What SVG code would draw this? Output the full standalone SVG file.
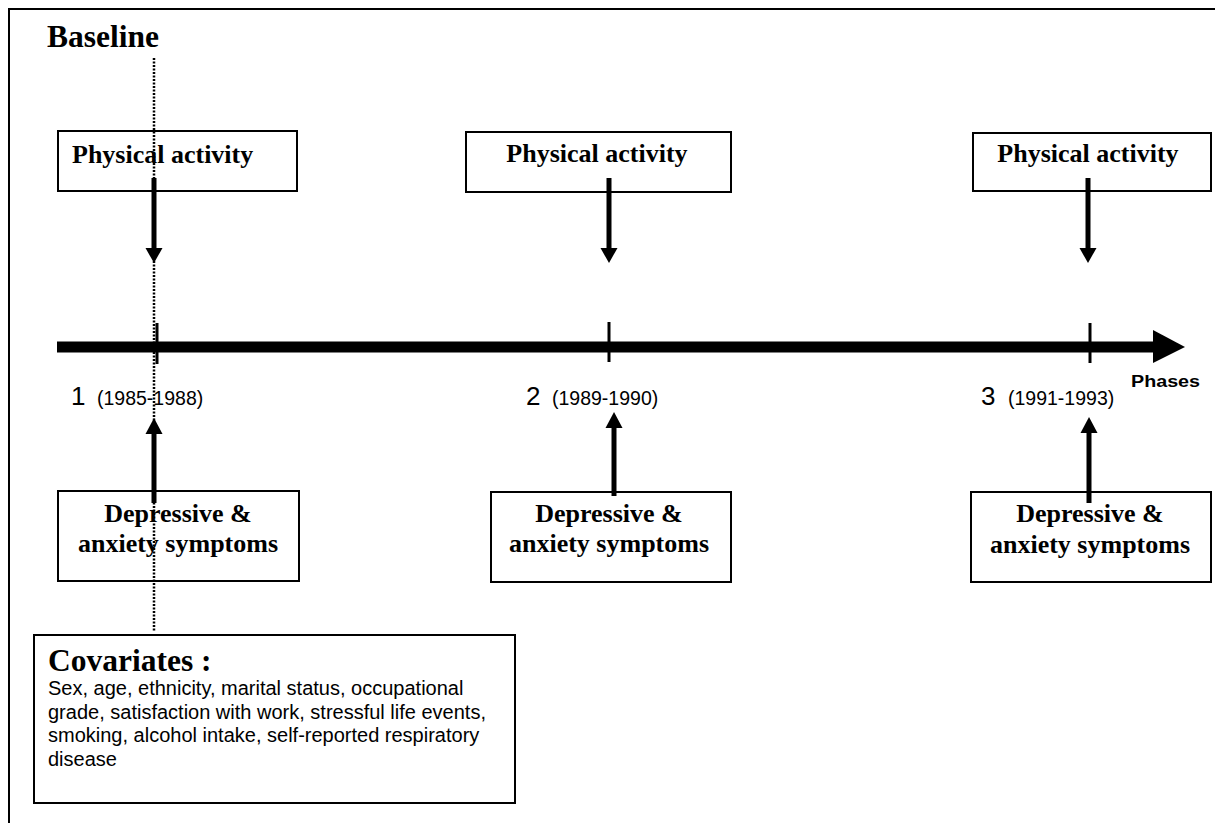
<svg xmlns="http://www.w3.org/2000/svg" width="1215" height="823" viewBox="0 0 1215 823">
<style>
.box{fill:#fff;stroke:#000;stroke-width:2}
.bt{font-family:"Liberation Serif","Times New Roman",serif;font-weight:bold;fill:#000}
.st{font-family:"Liberation Sans",Arial,sans-serif;fill:#000}
.arr{stroke:#000;stroke-width:5;fill:none}
.head{fill:#000}
.tick{stroke:#000;stroke-width:3}
</style>
<rect width="1215" height="823" fill="#fff"/>
<path d="M9,823 V9 H1215" fill="none" stroke="#000" stroke-width="2"/>
<text class="bt" x="47" y="47" font-size="31.5">Baseline</text>

<g id="pa1"><rect class="box" x="58" y="131" width="239" height="60"/><text class="bt" x="72" y="163" font-size="26">Physical activity</text></g>
<g id="pa2"><rect class="box" x="466" y="132" width="265" height="60"/><text class="bt" x="597" y="162" font-size="26" text-anchor="middle">Physical activity</text></g>
<g id="pa3"><rect class="box" x="973" y="133" width="238" height="58"/><text class="bt" x="1088" y="162" font-size="26" text-anchor="middle">Physical activity</text></g>

<g id="da1"><rect class="box" x="58" y="491" width="241" height="90"/><text class="bt" x="178" y="522" font-size="26" text-anchor="middle">Depressive &amp;</text><text class="bt" x="178" y="552" font-size="26" text-anchor="middle">anxiety symptoms</text></g>
<g id="da2"><rect class="box" x="491" y="492" width="240" height="90"/><text class="bt" x="609" y="522" font-size="26" text-anchor="middle">Depressive &amp;</text><text class="bt" x="609" y="552" font-size="26" text-anchor="middle">anxiety symptoms</text></g>
<g id="da3"><rect class="box" x="971" y="492" width="240" height="90"/><text class="bt" x="1090" y="522" font-size="26" text-anchor="middle">Depressive &amp;</text><text class="bt" x="1090" y="553" font-size="26" text-anchor="middle">anxiety symptoms</text></g>

<g id="cov"><rect class="box" x="34" y="635" width="481" height="168"/>
<text class="bt" x="48" y="671" font-size="31.5">Covariates :</text>
<text class="st" x="48" y="695" font-size="20">Sex, age, ethnicity, marital status, occupational</text>
<text class="st" x="48" y="719" font-size="20">grade, satisfaction with work, stressful life events,</text>
<text class="st" x="48" y="742" font-size="20">smoking, alcohol intake, self-reported respiratory</text>
<text class="st" x="48" y="766" font-size="20">disease</text>
</g>

<g id="axis">
<path d="M57,347 H1155" stroke="#000" stroke-width="11"/>
<polygon points="1153,330 1185,347 1153,363" fill="#000"/>
<line class="tick" x1="157" y1="323" x2="157" y2="364"/>
<line class="tick" x1="609" y1="322" x2="609" y2="362"/>
<line class="tick" x1="1090" y1="323" x2="1090" y2="363"/>
<text class="st" x="1131" y="387" font-size="16" font-weight="bold" textLength="69" lengthAdjust="spacingAndGlyphs">Phases</text>
<text class="st" x="71" y="405" font-size="26">1</text><text class="st" x="97" y="405" font-size="19.5">(1985-1988)</text>
<text class="st" x="526" y="405" font-size="26">2</text><text class="st" x="552" y="405" font-size="19.5">(1989-1990)</text>
<text class="st" x="981" y="405" font-size="26">3</text><text class="st" x="1008" y="405" font-size="19.5">(1991-1993)</text>
</g>

<g id="connectors">
<line x1="154" y1="58" x2="154" y2="632" stroke="#000" stroke-width="2.5" stroke-dasharray="2,1.5"/>
<line class="arr" x1="154" y1="178" x2="154" y2="250"/><polygon class="head" points="145.5,248 162.5,248 154,263"/>
<line class="arr" x1="609" y1="178" x2="609" y2="250"/><polygon class="head" points="600.5,248 617.5,248 609,263"/>
<line class="arr" x1="1088" y1="178" x2="1088" y2="250"/><polygon class="head" points="1079.5,248 1096.5,248 1088,263"/>
<line class="arr" x1="154" y1="503" x2="154" y2="432"/><polygon class="head" points="145.5,434 162.5,434 154,418"/>
<line class="arr" x1="614" y1="496" x2="614" y2="426"/><polygon class="head" points="605.5,428 622.5,428 614,412"/>
<line class="arr" x1="1089" y1="503" x2="1089" y2="431"/><polygon class="head" points="1080.5,433 1097.5,433 1089,417"/>
</g>
</svg>
